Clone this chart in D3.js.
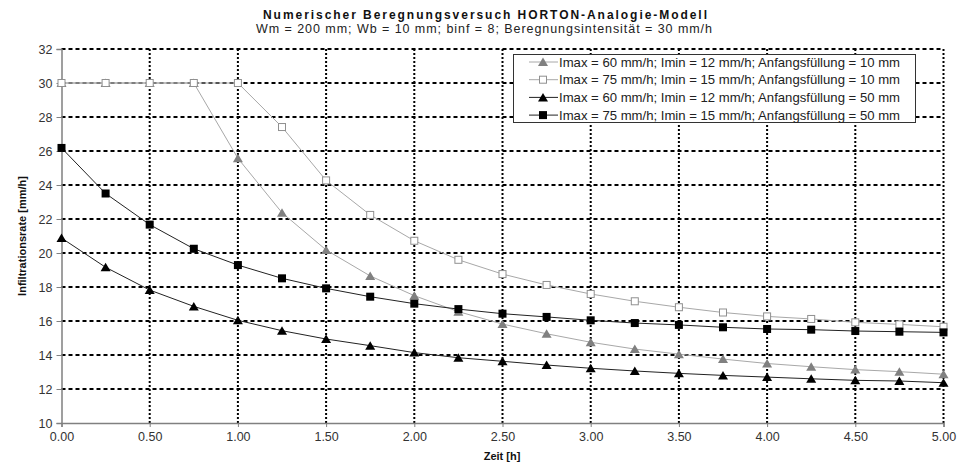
<!DOCTYPE html>
<html>
<head>
<meta charset="utf-8">
<script src="https://cdn.jsdelivr.net/npm/d3@7"></script>
<style>
  body { margin: 0; background: #fff; }
  text { font-family: "Liberation Sans", Arial, sans-serif; }
</style>
</head>
<body>
<div id="chart"></div>
<script>
// Zeit [h]
var zeit = [0, 0.25, 0.5, 0.75, 1, 1.25, 1.5, 1.75, 2, 2.25, 2.5, 2.75, 3, 3.25, 3.5, 3.75, 4, 4.25, 4.5, 4.75, 5];

// Infiltrationsrate [mm/h]
var imax60_af10 = [30, 30, 30, 30, 25.57, 22.37, 20.18, 18.65, 17.49, 16.55, 15.82, 15.25, 14.75, 14.35, 14.05, 13.76, 13.5, 13.31, 13.14, 13.02, 12.87];
var imax75_af10 = [30, 30, 30, 30, 30, 27.41, 24.27, 22.24, 20.72, 19.6, 18.76, 18.12, 17.59, 17.16, 16.81, 16.5, 16.27, 16.12, 15.92, 15.8, 15.66];
var imax60_af50 = [20.88, 19.16, 17.82, 16.86, 16.04, 15.43, 14.94, 14.55, 14.14, 13.84, 13.63, 13.41, 13.22, 13.06, 12.92, 12.8, 12.7, 12.6, 12.51, 12.47, 12.37];
var imax75_af50 = [26.18, 23.5, 21.67, 20.25, 19.29, 18.51, 17.92, 17.43, 17.02, 16.7, 16.43, 16.24, 16.04, 15.88, 15.77, 15.63, 15.53, 15.49, 15.41, 15.37, 15.33];

var seriesNames = [
  "Imax = 60 mm/h; Imin = 12 mm/h; Anfangsfüllung = 10 mm",
  "Imax = 75 mm/h; Imin = 15 mm/h; Anfangsfüllung = 10 mm",
  "Imax = 60 mm/h; Imin = 12 mm/h; Anfangsfüllung = 50 mm",
  "Imax = 75 mm/h; Imin = 15 mm/h; Anfangsfüllung = 50 mm"
];

var yTicks = [10, 12, 14, 16, 18, 20, 22, 24, 26, 28, 30, 32];
var xTicks = [0, 0.5, 1, 1.5, 2, 2.5, 3, 3.5, 4, 4.5, 5];

function init(){
  var w = 962, h = 464;

  var x = d3.scaleLinear().domain([0, 5]).range([61.5, 943.5]);
  var y = d3.scaleLinear().domain([10, 32]).range([423, 49]);

  var svg = d3.select("#chart").append("svg")
              .attr("width", w)
              .attr("height", h);

  // titles
  svg.append("text")
     .attr("x", 485).attr("y", 18.5)
     .attr("text-anchor", "middle")
     .attr("font-size", 12).attr("font-weight", "bold")
     .attr("textLength", 444).attr("lengthAdjust", "spacing")
     .attr("fill", "#111")
     .text("Numerischer Beregnungsversuch HORTON-Analogie-Modell");
  svg.append("text")
     .attr("x", 484).attr("y", 33)
     .attr("text-anchor", "middle")
     .attr("font-size", 12.5)
     .attr("textLength", 456).attr("lengthAdjust", "spacing")
     .attr("fill", "#222")
     .text("Wm = 200 mm; Wb = 10 mm; binf = 8;  Beregnungsintensität = 30 mm/h");

  // gridlines
  svg.append("g").selectAll("line")
     .data(yTicks.slice(1))
     .enter().append("line")
     .attr("x1", x(0)).attr("x2", x(5))
     .attr("y1", function(d){ return y(d); })
     .attr("y2", function(d){ return y(d); })
     .attr("stroke", "#000").attr("stroke-width", 2)
     .attr("stroke-dasharray", "4,3");
  svg.append("g").selectAll("line")
     .data(xTicks.slice(1))
     .enter().append("line")
     .attr("x1", function(d){ return x(d); })
     .attr("x2", function(d){ return x(d); })
     .attr("y1", y(10)).attr("y2", y(32))
     .attr("stroke", "#000").attr("stroke-width", 2)
     .attr("stroke-dasharray", "2,2");

  // axes
  var yAxis = d3.axisLeft(y).tickValues(yTicks).tickSize(5).tickPadding(4)
                .tickFormat(d3.format("d"));
  var xAxis = d3.axisBottom(x).tickValues(xTicks).tickSize(4).tickPadding(5)
                .tickFormat(d3.format(".2f"));

  var gy = svg.append("g").attr("transform", "translate(" + x(0) + ",0)").call(yAxis);
  var gx = svg.append("g").attr("transform", "translate(0," + y(10) + ")").call(xAxis);
  [gy, gx].forEach(function(g){
    g.select(".domain").attr("stroke", "#808080").attr("stroke-width", 1.5);
    g.selectAll(".tick line").attr("stroke", "#808080");
    g.selectAll(".tick text")
     .attr("font-family", "'Liberation Sans', Arial, sans-serif")
     .attr("font-size", 12.5).attr("fill", "#333");
  });

  svg.append("text")
     .attr("transform", "translate(26," + 236 + ") rotate(-90)")
     .attr("text-anchor", "middle")
     .attr("font-size", 11).attr("font-weight", "bold")
     .attr("fill", "#111")
     .text("Infiltrationsrate [mm/h]");
  svg.append("text")
     .attr("x", 502).attr("y", 460)
     .attr("text-anchor", "middle")
     .attr("font-size", 11).attr("font-weight", "bold")
     .attr("fill", "#111")
     .text("Zeit [h]");

  // series
  var series = [
    {vals: imax60_af10, line: "#a8a8a8", marker: "tri", fill: "#808080", stroke: "#808080"},
    {vals: imax75_af10, line: "#a8a8a8", marker: "sq", fill: "#fff", stroke: "#909090"},
    {vals: imax60_af50, line: "#222", marker: "tri", fill: "#000", stroke: "#000"},
    {vals: imax75_af50, line: "#222", marker: "sq", fill: "#000", stroke: "#000"}
  ];

  var line = d3.line()
               .x(function(d){ return x(d[0]); })
               .y(function(d){ return y(d[1]); });

  function drawMarker(g, type, cx, cy, s){
    if (type === "tri") {
      g.append("path")
       .attr("d", "M" + cx + "," + (cy - 4.5) + "L" + (cx + 5) + "," + (cy + 4) + "L" + (cx - 5) + "," + (cy + 4) + "Z")
       .attr("fill", s.fill).attr("stroke", "none");
    } else if (s.fill === "#fff") {
      g.append("rect")
       .attr("x", cx - 3.5).attr("y", cy - 3.5)
       .attr("width", 7).attr("height", 7)
       .attr("fill", "#fff").attr("stroke", s.stroke).attr("stroke-width", 1);
    } else {
      g.append("rect")
       .attr("x", cx - 4).attr("y", cy - 4)
       .attr("width", 8).attr("height", 8)
       .attr("fill", s.fill);
    }
  }

  series.forEach(function(s){
    var pts = zeit.map(function(t, i){ return [t, s.vals[i]]; });
    var g = svg.append("g");
    g.append("path")
     .attr("d", line(pts))
     .attr("fill", "none")
     .attr("stroke", s.line)
     .attr("stroke-width", 1);
    pts.forEach(function(p){
      drawMarker(g, s.marker, x(p[0]), y(p[1]), s);
    });
  });

  // legend
  var lg = svg.append("g");
  lg.append("rect")
    .attr("x", 513.5).attr("y", 54.5)
    .attr("width", 402).attr("height", 68)
    .attr("fill", "#fff").attr("stroke", "#333").attr("stroke-width", 1);
  series.forEach(function(s, i){
    var ly = 62 + i * 17.7;
    lg.append("line")
      .attr("x1", 529).attr("x2", 558)
      .attr("y1", ly).attr("y2", ly)
      .attr("stroke", s.line).attr("stroke-width", 1);
    drawMarker(lg, s.marker, 543, ly, s);
    lg.append("text")
      .attr("x", 559).attr("y", ly + 4.5)
      .attr("font-size", 13).attr("fill", "#222")
      .attr("textLength", 341).attr("lengthAdjust", "spacingAndGlyphs")
      .text(seriesNames[i]);
  });
}

window.onload = init;
</script>
</body>
</html>
